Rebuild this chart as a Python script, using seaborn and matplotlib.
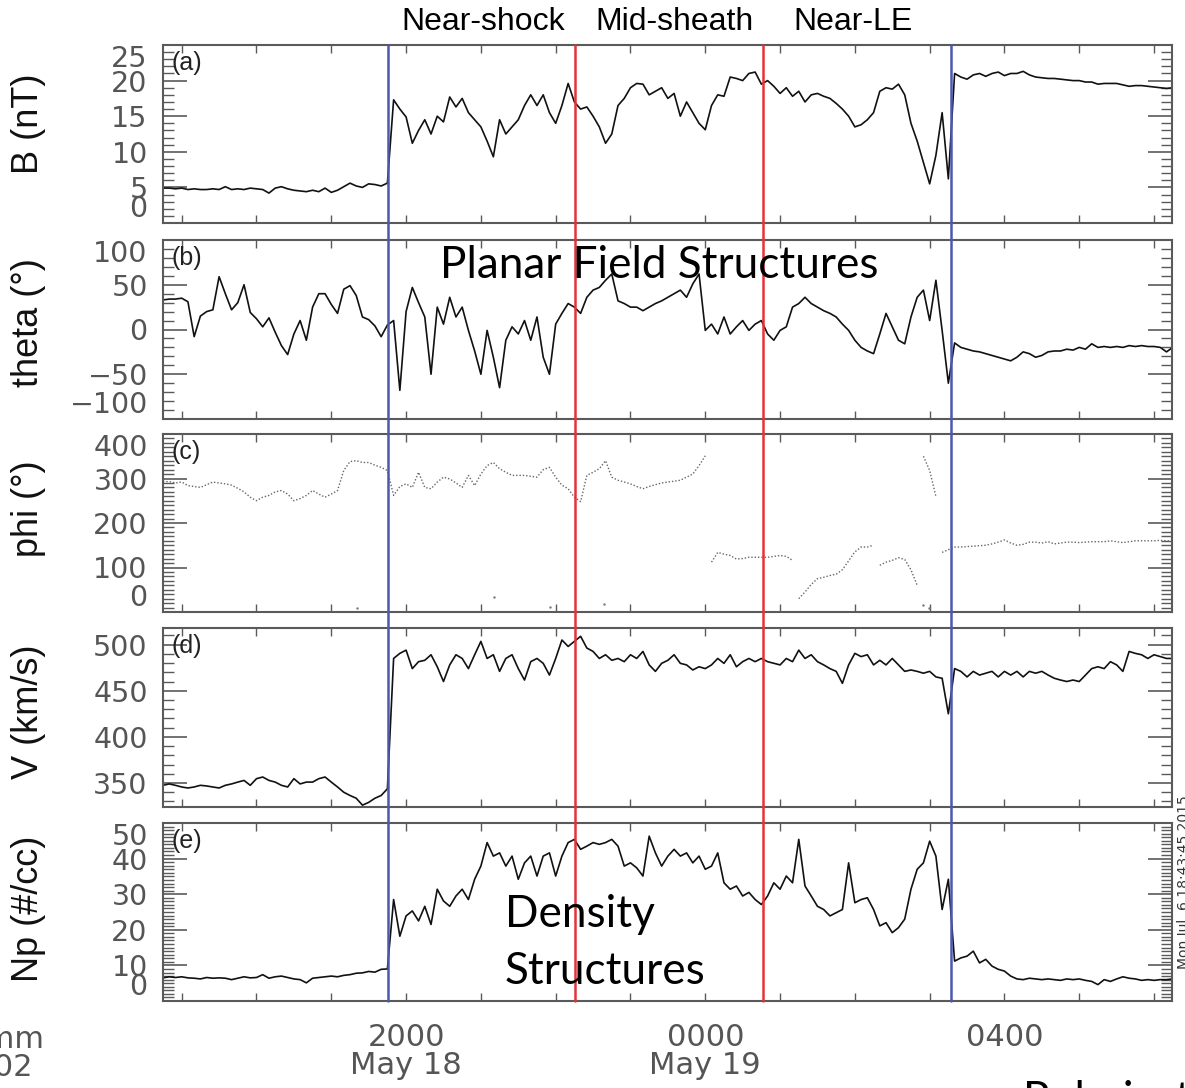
import numpy as np
import pandas as pd
import matplotlib
matplotlib.use("Agg")
import matplotlib.pyplot as plt
import matplotlib.ticker as mticker
import matplotlib.transforms as mtransforms
from matplotlib.lines import Line2D
import seaborn as sns

# ---------------------------------------------------------------------------
# Solar wind / sheath parameters, 5-minute samples from 16:45 UT on 18 May
# (time expressed in hours since 00 UT, 18 May)
# ---------------------------------------------------------------------------
start_hour = 16.75
cadence_min = 5.0

b_total = [
    4.9, 4.9, 4.8, 4.9, 4.7, 4.8, 4.7, 4.7, 4.8, 4.7, 5.1, 4.7,
    4.8, 4.7, 4.9, 4.8, 4.7, 4.2, 4.9, 5.1, 4.8, 4.6, 4.5, 4.4,
    4.6, 4.4, 4.9, 4.3, 4.6, 5.1, 5.6, 5.2, 5.0, 5.5, 5.4, 5.2,
    5.6, 17.3, 16.0, 14.9, 11.2, 13.0, 14.5, 12.5, 15.0, 14.2, 17.7, 16.3,
    17.5, 15.5, 14.5, 13.5, 11.5, 9.3, 14.5, 12.5, 13.5, 14.5, 16.5, 18.0,
    16.5, 18.0, 15.5, 14.0, 16.5, 19.6, 17.0, 16.0, 16.3, 15.0, 13.5, 11.2,
    12.5, 16.5, 17.5, 19.0, 19.6, 19.5, 18.0, 18.5, 19.0, 17.5, 18.2, 15.0,
    17.0, 15.5, 14.0, 13.1, 16.5, 18.0, 17.8, 20.5, 20.3, 20.0, 21.0, 21.2,
    19.5, 20.0, 19.2, 18.2, 19.0, 17.8, 18.5, 17.0, 18.0, 18.2, 17.8, 17.5,
    16.8, 16.0, 15.0, 13.5, 13.8, 14.5, 15.5, 18.5, 19.0, 18.8, 19.5, 18.0,
    14.0, 11.5, 8.5, 5.5, 9.5, 15.5, 6.2, 21.0, 20.5, 20.2, 20.8, 21.0,
    20.6, 21.0, 21.2, 20.7, 21.0, 21.0, 21.3, 20.8, 20.5, 20.4, 20.3, 20.3,
    20.2, 20.1, 20.0, 20.0, 19.8, 19.8, 19.5, 19.6, 19.6, 19.6, 19.4, 19.2,
    19.3, 19.3, 19.2, 19.1, 19.0, 18.9, 19.0,
]

theta = [
    33, 34, 34, 35, 31, -8, 15, 20, 22, 59, 40, 22,
    30, 50, 19, 12, 3, 13, -3, -18, -28, -5, 10, -12,
    25, 40, 40, 28, 18, 45, 49, 38, 14, 11, 4, -8,
    5, 10, -68, 20, 47, 30, 14, -50, 25, 6, 36, 14,
    25, -1, -24, -50, -1, -31, -65, -12, 3, -5, 10, -12,
    14, -31, -50, 6, 18, 29, 25, 18, 36, 44, 47, 55,
    62, 32, 29, 25, 25, 21, 25, 29, 32, 36, 40, 44,
    36, 51, 62, -1, 6, -5, 14, -5, 3, 10, -1, 6,
    10, -5, -12, -1, 3, 25, 29, 36, 29, 25, 21, 18,
    14, 6, -1, -12, -20, -24, -27, -5, 18, 3, -12, -16,
    14, 36, 44, 10, 55, -1, -60, -15, -20, -22, -24, -25,
    -27, -29, -31, -33, -35, -31, -25, -27, -31, -29, -25, -24,
    -24, -22, -23, -20, -22, -16, -20, -19, -20, -19, -20, -18,
    -19, -18, -19, -19, -20, -25, -20,
]

phi = [
    293, 293, 290, 292, 284, 282, 280, 286, 292, 290, 288, 285,
    278, 270, 258, 250, 258, 262, 270, 273, 265, 250, 255, 262,
    273, 265, 258, 265, 273, 318, 338, 340, 336, 336, 330, 325,
    318, 262, 282, 288, 280, 314, 280, 277, 292, 303, 299, 290,
    280, 307, 284, 310, 329, 336, 322, 314, 307, 307, 307, 305,
    303, 320, 325, 303, 285, 277, 258, 248, 307, 314, 322, 340,
    303, 296, 292, 288, 282, 277, 282, 286, 290, 292, 294, 296,
    303, 310, 329, 351, 112, 134, 130, 127, 119, 120, 123, 123,
    123, 123, 125, 127, 125, 116, 30, 45, 62, 75, 78, 82,
    85, 95, 115, 135, 146, 146, 150, 105, 112, 116, 122, 118,
    95, 60, 350, 318, 260, 134, 140, 146, 146, 147, 148, 149,
    150, 153, 157, 162, 155, 150, 152, 157, 157, 155, 158, 153,
    155, 157, 157, 156, 157, 158, 158, 158, 160, 158, 156, 158,
    160, 160, 160, 160, 161, 160, 160,
]
# sample indices where the azimuth trace starts a new (unconnected) run
phi_breaks = [88, 102, 115, 122, 125]
# isolated azimuth samples away from the main runs
phi_stray_hours = [19.35, 21.18, 21.92, 22.65, 26.91, 26.99]
phi_stray = [10, 34, 12, 19, 15, 10]

speed = [
    347.5, 349, 347.5, 345.7, 344.6, 345.7, 347.5, 346.8, 345.7, 344.6, 347.5, 349,
    351, 352.8, 347.5, 354.7, 356.5, 352.8, 351, 347.5, 345.7, 354.7, 349, 351,
    351, 354.7, 356.5, 351, 345.7, 340, 336.5, 333.5, 326, 329, 333.5, 336.5,
    343.7, 485, 490.5, 494, 474, 481.5, 483, 489, 476, 460, 478, 489,
    485, 474, 489, 503.5, 485, 489, 471, 485, 489, 474, 461.6, 481.5,
    485, 479.7, 467, 485, 505, 498, 503.5, 509, 496.3, 492.6, 485, 489,
    483, 485, 481.5, 489, 485, 492.6, 478, 471, 479.7, 483, 489, 479.7,
    478, 472.5, 476, 474, 478, 485, 479.7, 489, 476, 481.5, 485, 481.5,
    485, 481.5, 479.7, 478, 485, 481.5, 494, 485, 489, 481.5, 478, 474,
    471, 458, 478, 490.5, 487, 489, 478, 483, 478, 485, 478, 471,
    472.5, 471, 469, 471, 465, 463.5, 425, 474, 471, 465, 471, 467,
    469, 471, 465, 471, 467, 471, 465, 471, 469, 471, 467, 463.5,
    461.6, 460, 461.6, 460, 467, 474, 476, 474, 481.5, 478, 471, 492.6,
    490.5, 489, 485, 489, 487, 485, 485,
]

density = [
    6.5, 6.8, 6.6, 6.8, 6.5, 6.4, 6.2, 6.6, 6.4, 6.5, 6.4, 6.0,
    6.4, 6.8, 6.5, 6.6, 7.4, 6.4, 6.8, 7.0, 6.6, 6.2, 6.0, 5.1,
    6.4, 6.6, 6.8, 7.0, 6.8, 7.2, 7.4, 7.8, 7.9, 8.3, 8.1, 8.9,
    9.0, 28.5, 18.2, 23.9, 25.3, 22.5, 26.6, 21.5, 31.4, 28.1, 26.6, 29.5,
    31.4, 28.5, 34.2, 37.9, 44.5, 40.7, 41.6, 37.9, 40.7, 34.2, 38.8, 40.7,
    35.1, 40.7, 41.6, 35.1, 40.7, 44.5, 45.4, 42.6, 43.5, 44.5, 44.0, 44.5,
    45.4, 43.5, 37.9, 38.8, 37.4, 35.1, 46.3, 41.6, 37.9, 40.7, 42.6, 40.7,
    41.6, 38.8, 40.7, 37.0, 37.9, 41.6, 33.2, 31.4, 32.3, 29.5, 30.5, 28.5,
    27.1, 29.5, 33.2, 31.4, 35.1, 33.2, 45.4, 32.3, 29.5, 26.6, 25.7, 23.9,
    24.8, 25.7, 38.8, 27.6, 28.5, 29.0, 25.7, 21.1, 22.0, 19.2, 20.6, 23.0,
    31.4, 37.0, 38.8, 44.9, 40.7, 25.7, 34.2, 11.2, 12.1, 12.6, 14.0, 10.7,
    11.7, 9.8, 8.9, 8.4, 7.0, 6.2, 6.0, 6.4, 6.2, 6.0, 6.2, 6.0,
    5.8, 6.2, 6.0, 6.2, 5.8, 5.5, 4.6, 6.0, 5.5, 6.2, 6.8, 6.4,
    6.2, 5.8, 6.0, 5.8, 6.0, 6.0, 6.2,
]

# region boundaries (hours since 00 UT 18 May)
shock_time = 19.76
region_bounds = [22.26, 24.77]
le_time = 27.29

time_range = (16.75, 30.24)
time_ticks = [20, 24, 28]
time_tick_labels = ["2000\nMay 18", "0000\nMay 19", "0400"]
region_names = ["Near-shock", "Mid-sheath", "Near-LE"]

hours = start_hour + np.arange(len(b_total)) * cadence_min / 60.0
df = pd.DataFrame({"hours": hours, "B": b_total, "theta": theta,
                   "phi": phi, "V": speed, "Np": density})
df["phi_run"] = np.searchsorted(phi_breaks, np.arange(len(df)), side="right")
stray_df = pd.DataFrame({"hours": phi_stray_hours, "phi": phi_stray})

# ---------------------------------------------------------------------------
sns.set_theme(style="white")
plt.rcParams["font.family"] = ["DejaVu Sans"]
plt.rcParams["axes.unicode_minus"] = True

W, H = 1185, 1088
fig = plt.figure(figsize=(W / 100, H / 100), dpi=100)

# panel boxes in pixels: (top, bottom)
left_px, right_px = 163, 1172
boxes = [(45, 223), (240, 419), (434, 612), (628, 807), (823, 1001)]
panels = [
    dict(col="B", ylim=(0, 25), major=5, minor=1, label="B (nT)", tag="(a)", ly=0.56),
    dict(col="theta", ylim=(-100, 100), major=50, minor=10, label="theta (\u00b0)", tag="(b)", ly=0.54),
    dict(col="phi", ylim=(0, 400), major=100, minor=10, label="phi (\u00b0)", tag="(c)", ly=0.58),
    dict(col="V", ylim=(324, 518), major=50, minor=10, label="V (km/s)", tag="(d)", ly=0.53),
    dict(col="Np", ylim=(0, 50), major=10, minor=1, label="Np (#/cc)", tag="(e)", ly=0.52),
]

frame_col = "#5a5a5a"
tick_text_col = "#555555"
axes = []
for (top, bot), p in zip(boxes, panels):
    ax = fig.add_axes([left_px / W, 1 - bot / H, (right_px - left_px) / W, (bot - top) / H])
    axes.append(ax)
    if p["col"] == "phi":
        sns.lineplot(data=df, x="hours", y="phi", units="phi_run", estimator=None,
                     sort=False, color="#666666", linewidth=1.0,
                     linestyle=(0, (1, 1.4)), ax=ax)
        sns.scatterplot(data=stray_df, x="hours", y="phi", color="#777777",
                        s=3, linewidth=0, ax=ax)
    else:
        sns.lineplot(data=df, x="hours", y=p["col"], sort=False, color="#111111",
                     linewidth=1.2, ax=ax)

    ax.set_xlim(*time_range)
    ax.set_ylim(*p["ylim"])
    ax.yaxis.set_major_locator(mticker.MultipleLocator(p["major"]))
    ax.yaxis.set_minor_locator(mticker.MultipleLocator(p["minor"]))
    ax.xaxis.set_major_locator(mticker.FixedLocator(time_ticks))
    ax.xaxis.set_minor_locator(mticker.MultipleLocator(1))

    for s in ax.spines.values():
        s.set_color(frame_col)
        s.set_linewidth(1.5)
    ax.tick_params(axis="y", which="major", direction="in", length=17, width=1.2,
                   left=True, right=True, colors=frame_col, labelcolor=tick_text_col,
                   labelsize=20.5, pad=11)
    ax.tick_params(axis="y", which="minor", direction="in", length=8, width=1.0,
                   left=True, right=True, colors=frame_col)
    ax.tick_params(axis="x", which="both", direction="in", length=6, width=1.0,
                   top=True, bottom=True, colors=frame_col, labelcolor=tick_text_col,
                   labelsize=22, pad=16)

    # keep the end labels inside the panel height
    locs = ax.yaxis.get_majorticklocs()
    ticks = ax.yaxis.get_major_ticks(len(locs))
    for loc, tk in zip(locs, ticks):
        if np.isclose(loc, p["ylim"][0]):
            tk.label1.set_verticalalignment("bottom")
        elif np.isclose(loc, p["ylim"][1]):
            tk.label1.set_verticalalignment("top")

    ax.set_ylabel(p["label"], fontsize=26, family="Liberation Sans", color="#111111",
                  va="center")
    ax.yaxis.set_label_coords((28 - left_px) / (right_px - left_px), p["ly"])
    ax.set_xlabel("")
    ax.text(0.008, 0.90, p["tag"], transform=ax.transAxes, fontsize=18,
            family="Liberation Sans", color="#222222", va="center", ha="left")
    ax.set_xticklabels([])

axes[-1].set_xticks(time_ticks, time_tick_labels)
for lab in axes[-1].get_xticklabels():
    lab.set_linespacing(0.95)
    lab.set_verticalalignment("top")

# region boundary lines spanning all panels
trans = mtransforms.blended_transform_factory(axes[-1].transData, fig.transFigure)
y_lo = axes[-1].get_position().y0
y_hi = axes[0].get_position().y1
for t, c in [(shock_time, "#4c58ad"), (region_bounds[0], "#e5323a"),
             (region_bounds[1], "#e5323a"), (le_time, "#4c58ad")]:
    fig.add_artist(Line2D([t, t], [y_lo, y_hi], transform=trans, color=c,
                          linewidth=1.8, zorder=5))

# region names above the top panel
for name, xc in zip(region_names, [483, 674, 853]):
    fig.text(xc / W, 1 - 22 / H, name, ha="center", va="center", fontsize=23,
             family="Liberation Sans", color="black")

# structure annotations
fig.text(440 / W, 1 - 278 / H, "Planar Field Structures", ha="left", va="baseline",
         fontsize=31.8, family="Lato", color="black", zorder=6)
fig.text(505 / W, 1 - 927 / H, "Density", ha="left", va="baseline",
         fontsize=31.8, family="Lato", color="black", zorder=6)
fig.text(505 / W, 1 - 984 / H, "Structures", ha="left", va="baseline",
         fontsize=31.8, family="Lato", color="black", zorder=6)
fig.text(1023 / W, 1 - 1080 / H, "Polarization", ha="left", va="top",
         fontsize=31.8, family="Lato", color="black")

# time axis caption at lower left and plot stamp at right edge
fig.text(-5 / W, 1 - 1025 / H, "hhmm\n2002", ha="center", va="top", fontsize=22,
         color=tick_text_col, linespacing=0.95, multialignment="center")
fig.text(1184 / W, 1 - 882 / H, "Mon Jul  6 18:43:45 2015", rotation=90,
         ha="center", va="center", fontsize=10, color="#333333")

fig.savefig("out.png", dpi=100)
